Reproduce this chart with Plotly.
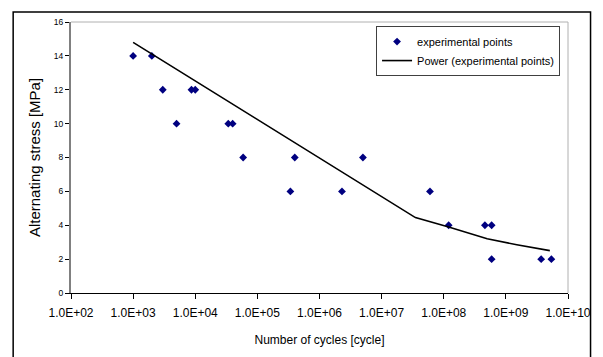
import plotly.graph_objects as go

# experimental data (cycles, stress MPa)
exp_cycles = [1.0e3, 2.0e3, 3.0e3, 5.0e3, 8.7e3, 1.0e4, 3.4e4, 4.0e4, 5.9e4,
              3.4e5, 4.0e5, 2.3e6, 5.0e6, 6.0e7, 1.2e8, 4.6e8, 5.9e8, 5.9e8,
              3.7e9, 5.4e9]
exp_stress = [14, 14, 12, 10, 12, 12, 10, 10, 8,
              6, 8, 6, 8, 6, 4, 4, 4, 2,
              2, 2]

# power trendline as drawn
trend_cycles = [1.0e3, 3.5e7, 1.2e8, 5.0e8, 1.5e9, 5.1e9]
trend_stress = [14.8, 4.45, 3.9, 3.2, 2.85, 2.5]

x_tickvals = [1e2, 1e3, 1e4, 1e5, 1e6, 1e7, 1e8, 1e9, 1e10]
x_ticktext = ["1.0E+02", "1.0E+03", "1.0E+04", "1.0E+05", "1.0E+06",
              "1.0E+07", "1.0E+08", "1.0E+09", "1.0E+10"]
y_tickvals = [0, 2, 4, 6, 8, 10, 12, 14, 16]

font = "Liberation Sans, Arial, sans-serif"

fig = go.Figure()
fig.add_trace(go.Scatter(
    x=exp_cycles, y=exp_stress, mode="markers", name="experimental points",
    marker=dict(symbol="diamond", size=6, color="#000080"),
))
fig.add_trace(go.Scatter(
    x=trend_cycles, y=trend_stress, mode="lines", name="Power (experimental points)",
    line=dict(color="black", width=1.6),
))

fig.update_layout(
    width=603, height=357,
    margin=dict(l=71, r=25, t=22, b=64),
    paper_bgcolor="white", plot_bgcolor="white",
    font=dict(family=font, color="black"),
    showlegend=True,
    legend=dict(
        x=0.984, y=0.985, xanchor="right", yanchor="top",
        bgcolor="white", bordercolor="#404040", borderwidth=1,
        font=dict(size=11, family=font), itemwidth=30,
        tracegroupgap=0,
    ),
    xaxis=dict(
        type="log", range=[2, 10],
        tickvals=x_tickvals, ticktext=x_ticktext,
        tickfont=dict(size=12), ticks="outside", ticklen=5, tickcolor="black",
        ticklabelstandoff=4,
        showgrid=False, zeroline=False,
        showline=True, linecolor="black", linewidth=1,
        title=dict(text="Number of cycles [cycle]", font=dict(size=12), standoff=16),
    ),
    yaxis=dict(
        range=[0, 16], tickvals=y_tickvals,
        tickfont=dict(size=8.5), ticks="outside", ticklen=4, tickcolor="black",
        showgrid=False, zeroline=False,
        showline=True, linecolor="#808080", linewidth=2,
        title=dict(text="Alternating stress [MPa]", font=dict(size=15), standoff=10),
    ),
    shapes=[
        # plot area border (top/right)
        dict(type="line", xref="paper", yref="paper", x0=0, x1=1, y0=1, y1=1,
             line=dict(color="#b0b0b0", width=1)),
        dict(type="line", xref="paper", yref="paper", x0=1, x1=1, y0=0, y1=1,
             line=dict(color="#b0b0b0", width=1)),
        # outer chart border
        dict(type="rect", xref="paper", yref="paper",
             x0=(12 - 71) / 507, x1=(601 - 71) / 507,
             y0=(293 - 370) / 271, y1=(293 - 12) / 271,
             line=dict(color="black", width=1.5), layer="below"),
    ],
)

fig.write_html("out.html")
